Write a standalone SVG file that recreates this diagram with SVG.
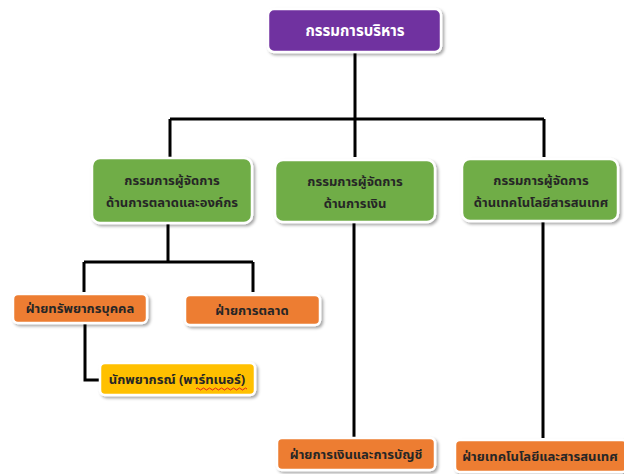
<svg xmlns="http://www.w3.org/2000/svg" width="624" height="474" viewBox="0 0 624 474">
<defs>
<filter id="sh" x="-10%" y="-20%" width="125%" height="150%">
<feGaussianBlur in="SourceAlpha" stdDeviation="1.5"/>
<feOffset dx="2" dy="2" result="b"/>
<feFlood flood-color="#000" flood-opacity="0.35"/>
<feComposite in2="b" operator="in"/>
<feMerge><feMergeNode/><feMergeNode in="SourceGraphic"/></feMerge>
</filter>
</defs>
<style>
.box{stroke:#ffffff;stroke-width:2.5;filter:url(#sh)}
.p{fill:#7030a0}.g{fill:#70ad47}.o{fill:#ed7d31}.y{fill:#ffc000}
text{font-family:"Noto Sans Thai","Tahoma","Noto Sans",sans-serif;font-size:13px;font-weight:bold;text-anchor:middle;fill:#262626}
.w{fill:#ffffff;font-size:15px}
.ln{stroke:#000;stroke-width:3;fill:none}
</style>
<rect width="624" height="474" fill="#fff"/>
<g id="connectors">
<path class="ln" d="M355 53V119M170 119H544M170 119V157M355 119V157M544 119V157"/>
<path class="ln" d="M168 224V262M84 262H253M84 262V292M253 262V292"/>
<path class="ln" d="M85 324V380H100"/>
<path class="ln" d="M354 223V437M543 222V438"/>
</g>
<g id="n-board"><rect class="box p" x="268" y="9" width="173" height="43" rx="6"/><text class="w" x="355" y="36">กรรมการบริหาร</text></g>
<g id="n-mkt-mgr"><rect class="box g" x="92" y="158" width="160" height="65" rx="8"/><text x="172" y="185">กรรมการผู้จัดการ</text><text x="172" y="207">ด้านการตลาดและองค์กร</text></g>
<g id="n-fin-mgr"><rect class="box g" x="275" y="160" width="160" height="62" rx="8"/><text x="355" y="186">กรรมการผู้จัดการ</text><text x="355" y="208">ด้านการเงิน</text></g>
<g id="n-it-mgr"><rect class="box g" x="462" y="159" width="156" height="62" rx="8"/><text x="541" y="185">กรรมการผู้จัดการ</text><text x="541" y="207">ด้านเทคโนโลยีสารสนเทศ</text></g>
<g id="n-hr"><rect class="box o" x="13" y="294" width="134" height="29" rx="5"/><text x="80" y="313">ฝ่ายทรัพยากรบุคคล</text></g>
<g id="n-mkt"><rect class="box o" x="185" y="295" width="135" height="30" rx="5"/><text x="252" y="315">ฝ่ายการตลาด</text></g>
<g id="n-partner"><rect class="box y" x="100" y="363" width="155" height="32" rx="5"/><text x="177" y="384">นักพยากรณ์ (พาร์ทเนอร์)</text>
<path d="M196 389q1.5-2 3 0t3 0t3 0t3 0t3 0t3 0t3 0t3 0t3 0t3 0t3 0t3 0t3 0t3 0t3 0t3 0t3 0" fill="none" stroke="#e02020" stroke-width="1"/></g>
<g id="n-fin"><rect class="box o" x="277" y="438" width="158" height="32" rx="5"/><text x="356" y="459">ฝ่ายการเงินและการบัญชี</text></g>
<g id="n-it"><rect class="box o" x="455" y="440" width="172" height="32" rx="5"/><text x="540" y="461">ฝ่ายเทคโนโลยีและสารสนเทศ</text></g>
</svg>
